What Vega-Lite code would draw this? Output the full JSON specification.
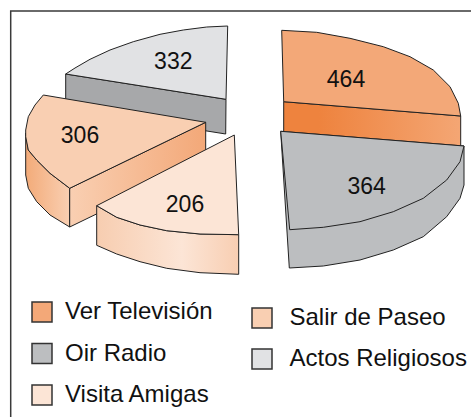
{"$schema":"https://vega.github.io/schema/vega-lite/v6.json","width":471,"height":417,"padding":0,"autosize":{"type":"none"},"view":{"stroke":null},"background":"white",
"datasets":{"valores":[{"actividad":"Actos Religiosos","valor":332,"px":173.3,"py":62},{"actividad":"Salir de Paseo","valor":306,"px":80,"py":136},{"actividad":"Visita Amigas","valor":206,"px":185,"py":204.5},{"actividad":"Ver Televisión","valor":464,"px":346,"py":80},{"actividad":"Oir Radio","valor":364,"px":366.7,"py":186.7}],
"caras":[
{"c":"marco","i":0,"x":10.7,"y":430},{"c":"marco","i":1,"x":10.7,"y":11},{"c":"marco","i":2,"x":480,"y":11},
{"c":"a_lado","i":0,"x":65.7,"y":74},{"c":"a_lado","i":1,"x":226,"y":99.3},{"c":"a_lado","i":2,"x":225.7,"y":134},{"c":"a_lado","i":3,"x":65.7,"y":108.5},{"c":"a_lado","i":4,"x":65.7,"y":74},
{"c":"a_top","a":"Actos Religiosos","i":0,"x":227.7,"y":26},{"c":"a_top","a":"Actos Religiosos","i":1,"x":206.7,"y":27},{"c":"a_top","a":"Actos Religiosos","i":2,"x":183.3,"y":30},{"c":"a_top","a":"Actos Religiosos","i":3,"x":160,"y":34.3},{"c":"a_top","a":"Actos Religiosos","i":4,"x":133.3,"y":41.7},{"c":"a_top","a":"Actos Religiosos","i":5,"x":110,"y":50},{"c":"a_top","a":"Actos Religiosos","i":6,"x":90,"y":59.3},{"c":"a_top","a":"Actos Religiosos","i":7,"x":75,"y":68},{"c":"a_top","a":"Actos Religiosos","i":8,"x":65.7,"y":74},{"c":"a_top","a":"Actos Religiosos","i":9,"x":226,"y":99.3},{"c":"a_top","a":"Actos Religiosos","i":10,"x":227.7,"y":26},
{"c":"s_izq","i":0,"x":25.7,"y":133},{"c":"s_izq","i":1,"x":25.7,"y":175},{"c":"s_izq","i":2,"x":28.3,"y":188.3},{"c":"s_izq","i":3,"x":36.7,"y":201.7},{"c":"s_izq","i":4,"x":50,"y":215},{"c":"s_izq","i":5,"x":69.7,"y":227},{"c":"s_izq","i":6,"x":69.7,"y":188.3},{"c":"s_izq","i":7,"x":50,"y":173.3},{"c":"s_izq","i":8,"x":36.7,"y":160},{"c":"s_izq","i":9,"x":28.3,"y":150},{"c":"s_izq","i":10,"x":25.7,"y":133},
{"c":"s_fr","i":0,"x":69.7,"y":188.3},{"c":"s_fr","i":1,"x":205.7,"y":122.3},{"c":"s_fr","i":2,"x":205.7,"y":161},{"c":"s_fr","i":3,"x":69.7,"y":227},{"c":"s_fr","i":4,"x":69.7,"y":188.3},
{"c":"s_top","i":0,"x":43.3,"y":95},{"c":"s_top","i":1,"x":205.7,"y":122.3},{"c":"s_top","i":2,"x":69.7,"y":188.3},{"c":"s_top","i":3,"x":50,"y":173.3},{"c":"s_top","i":4,"x":36.7,"y":160},{"c":"s_top","i":5,"x":28.3,"y":150},{"c":"s_top","i":6,"x":25.7,"y":136.7},{"c":"s_top","i":7,"x":25.7,"y":130},{"c":"s_top","i":8,"x":28.3,"y":116.7},{"c":"s_top","i":9,"x":35,"y":105},{"c":"s_top","i":10,"x":43.3,"y":95},
{"c":"v_lado","i":0,"x":96.7,"y":205.7},{"c":"v_lado","i":1,"x":96.7,"y":245.3},{"c":"v_lado","i":2,"x":116.7,"y":254},{"c":"v_lado","i":3,"x":140,"y":261.7},{"c":"v_lado","i":4,"x":166.7,"y":268.3},{"c":"v_lado","i":5,"x":200,"y":272.7},{"c":"v_lado","i":6,"x":238.7,"y":274.3},{"c":"v_lado","i":7,"x":238.7,"y":234.7},{"c":"v_lado","i":8,"x":200,"y":234},{"c":"v_lado","i":9,"x":166.7,"y":230.7},{"c":"v_lado","i":10,"x":140,"y":225},{"c":"v_lado","i":11,"x":116.7,"y":217.3},{"c":"v_lado","i":12,"x":96.7,"y":205.7},
{"c":"v_top","a":"Visita Amigas","i":0,"x":234.3,"y":135},{"c":"v_top","a":"Visita Amigas","i":1,"x":96.7,"y":205.7},{"c":"v_top","a":"Visita Amigas","i":2,"x":116.7,"y":217.3},{"c":"v_top","a":"Visita Amigas","i":3,"x":140,"y":225},{"c":"v_top","a":"Visita Amigas","i":4,"x":166.7,"y":230.7},{"c":"v_top","a":"Visita Amigas","i":5,"x":200,"y":234},{"c":"v_top","a":"Visita Amigas","i":6,"x":238.7,"y":234.7},{"c":"v_top","a":"Visita Amigas","i":7,"x":234.3,"y":135},
{"c":"t_lado","i":0,"x":283.7,"y":101.7},{"c":"t_lado","i":1,"x":460.7,"y":116},{"c":"t_lado","i":2,"x":460.7,"y":148},{"c":"t_lado","i":3,"x":283.7,"y":134},{"c":"t_lado","i":4,"x":283.7,"y":101.7},
{"c":"t_top","i":0,"x":281.7,"y":30.3},{"c":"t_top","i":1,"x":316.7,"y":32.3},{"c":"t_top","i":2,"x":350,"y":38.3},{"c":"t_top","i":3,"x":383.3,"y":46.7},{"c":"t_top","i":4,"x":410,"y":56.7},{"c":"t_top","i":5,"x":433.3,"y":70},{"c":"t_top","i":6,"x":450,"y":86.7},{"c":"t_top","i":7,"x":458.3,"y":103.3},{"c":"t_top","i":8,"x":460.7,"y":116},{"c":"t_top","i":9,"x":283.7,"y":101.7},{"c":"t_top","i":10,"x":281.7,"y":30.3},
{"c":"r_lado","i":0,"x":280.7,"y":131.3},{"c":"r_lado","i":1,"x":289.3,"y":268},{"c":"r_lado","i":2,"x":323.3,"y":266},{"c":"r_lado","i":3,"x":360,"y":260},{"c":"r_lado","i":4,"x":393.3,"y":250},{"c":"r_lado","i":5,"x":423.3,"y":236.7},{"c":"r_lado","i":6,"x":446.7,"y":216.7},{"c":"r_lado","i":7,"x":460,"y":198.3},{"c":"r_lado","i":8,"x":464,"y":185},{"c":"r_lado","i":9,"x":464,"y":146},{"c":"r_lado","i":10,"x":280.7,"y":131.3},
{"c":"r_top","i":0,"x":280.7,"y":131.3},{"c":"r_top","i":1,"x":464,"y":146},{"c":"r_top","i":2,"x":460,"y":161.7},{"c":"r_top","i":3,"x":446.7,"y":180},{"c":"r_top","i":4,"x":423.3,"y":198.3},{"c":"r_top","i":5,"x":393.3,"y":211.7},{"c":"r_top","i":6,"x":360,"y":221.7},{"c":"r_top","i":7,"x":323.3,"y":227.3},{"c":"r_top","i":8,"x":289.7,"y":229.7},{"c":"r_top","i":9,"x":280.7,"y":131.3}
]},
"data":{"name":"caras"},
"encoding":{"x":{"field":"x","type":"quantitative","axis":null,"scale":{"domain":[0,471],"nice":false,"zero":false}},"y":{"field":"y","type":"quantitative","axis":null,"scale":{"domain":[0,417],"reverse":true,"nice":false,"zero":false}},"order":{"field":"i"}},
"resolve":{"scale":{"fill":"independent"}},
"layer":[
{"transform":[{"filter":"datum.c=='marco'"}],"mark":{"type":"line","stroke":"#3a3a3a","strokeWidth":1.5,"clip":true}},
{"transform":[{"filter":"datum.c=='a_lado'"}],"mark":{"type":"line","fill":"#a7a8aa","stroke":"#222","strokeWidth":1}},
{"transform":[{"filter":"datum.c=='a_top'"}],"mark":{"type":"line","stroke":"#222","strokeWidth":1},"encoding":{"fill":{"field":"a","type":"nominal","scale":{"domain":["Salir de Paseo","Actos Religiosos"],"range":["#f9cfb2","#e1e2e4"]},"legend":{"orient":"none","legendX":250,"legendY":306,"title":null,"symbolType":"square","symbolSize":400,"symbolStrokeColor":"#333","symbolStrokeWidth":1.5,"labelFont":"Liberation Sans","labelFontSize":24,"labelColor":"#111","labelOffset":15.5,"rowPadding":15,"padding":0,"labelLimit":300}}}},
{"transform":[{"filter":"datum.c=='s_izq'"}],"mark":{"type":"line","stroke":"#222","strokeWidth":1,"fill":{"gradient":"linear","x1":0,"x2":1,"y1":0,"y2":0,"stops":[{"offset":0,"color":"#f3ab79"},{"offset":1,"color":"#f9cfb2"}]}}},
{"transform":[{"filter":"datum.c=='s_fr'"}],"mark":{"type":"line","stroke":"#222","strokeWidth":1,"fill":{"gradient":"linear","x1":0,"x2":1,"y1":0,"y2":0,"stops":[{"offset":0,"color":"#f9cfb2"},{"offset":1,"color":"#f3a878"}]}}},
{"transform":[{"filter":"datum.c=='s_top'"}],"mark":{"type":"line","fill":"#f9cfb2","stroke":"#222","strokeWidth":1}},
{"transform":[{"filter":"datum.c=='v_lado'"}],"mark":{"type":"line","stroke":"#222","strokeWidth":1,"fill":{"gradient":"linear","x1":0,"x2":1,"y1":0,"y2":0,"stops":[{"offset":0,"color":"#f7cdb0"},{"offset":0.6,"color":"#fce5d6"},{"offset":1,"color":"#f8ceb2"}]}}},
{"transform":[{"filter":"datum.c=='v_top'"}],"mark":{"type":"line","stroke":"#222","strokeWidth":1},"encoding":{"fill":{"field":"a","type":"nominal","scale":{"domain":["Ver Televisión","Oir Radio","Visita Amigas"],"range":["#f3a878","#bcbec0","#fce5d6"]},"legend":{"orient":"none","legendX":30,"legendY":300,"title":null,"symbolType":"square","symbolSize":400,"symbolStrokeColor":"#333","symbolStrokeWidth":1.5,"labelFont":"Liberation Sans","labelFontSize":24,"labelColor":"#111","labelOffset":11,"rowPadding":15.5,"padding":0,"labelLimit":300}}}},
{"transform":[{"filter":"datum.c=='t_lado'"}],"mark":{"type":"line","stroke":"#222","strokeWidth":1,"fill":{"gradient":"linear","x1":0,"x2":1,"y1":0,"y2":0,"stops":[{"offset":0,"color":"#ee833e"},{"offset":0.2,"color":"#ee833e"},{"offset":1,"color":"#f4a674"}]}}},
{"transform":[{"filter":"datum.c=='t_top'"}],"mark":{"type":"line","fill":"#f3a878","stroke":"#222","strokeWidth":1}},
{"transform":[{"filter":"datum.c=='r_lado'"}],"mark":{"type":"line","fill":"#bcbec0","stroke":"#222","strokeWidth":1}},
{"transform":[{"filter":"datum.c=='r_top'"}],"mark":{"type":"line","fill":"#bcbec0","stroke":"#222","strokeWidth":1}},
{"data":{"name":"valores"},"mark":{"type":"text","font":"Liberation Sans","fontSize":23,"color":"#111","baseline":"middle","align":"center"},"encoding":{"x":{"field":"px","type":"quantitative"},"y":{"field":"py","type":"quantitative"},"text":{"field":"valor","type":"quantitative"},"order":null}}
]}
